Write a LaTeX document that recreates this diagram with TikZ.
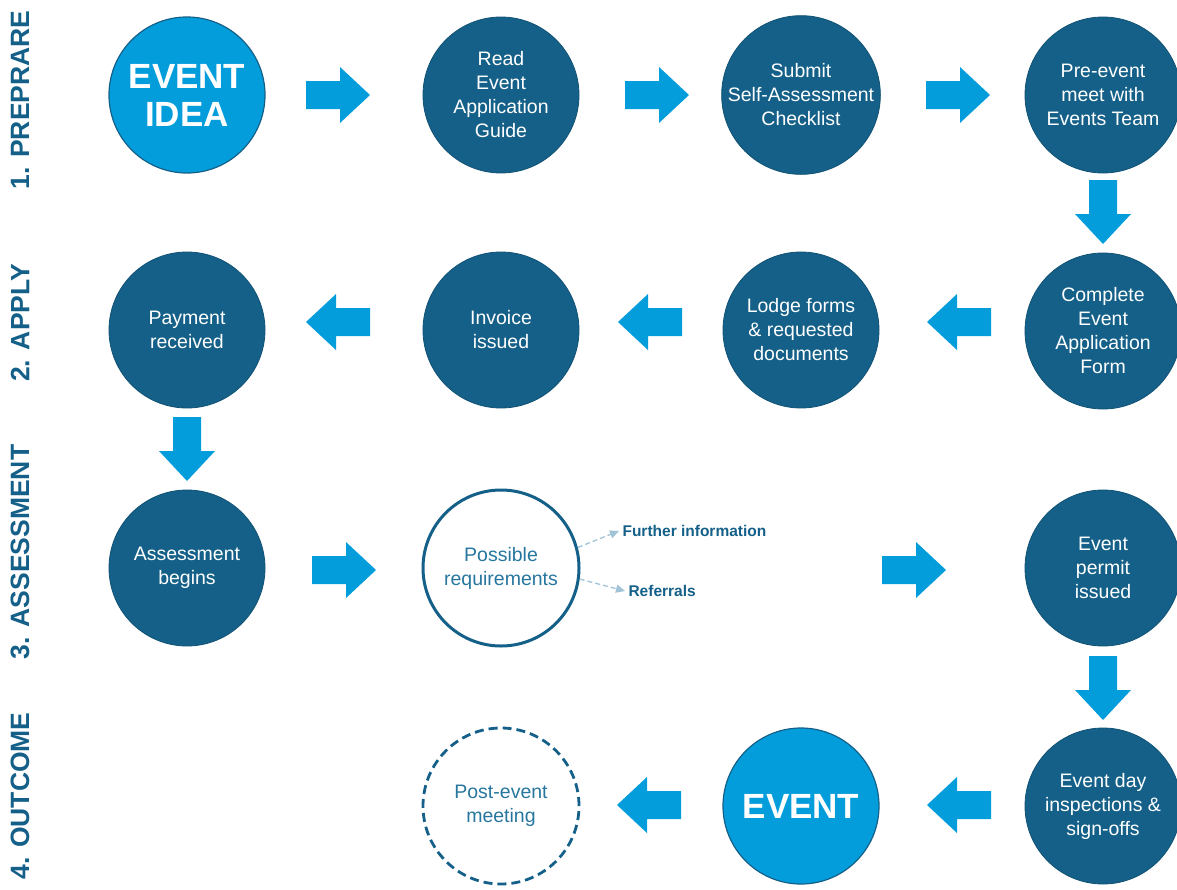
\documentclass[tikz,border=0pt]{standalone}
\usepackage{fontspec}
\setmainfont{Liberation Sans}
\usetikzlibrary{calc,arrows.meta}
\definecolor{dblue}{RGB}{20,96,136}
\definecolor{lblue}{RGB}{3,157,220}
\definecolor{tblue}{RGB}{38,118,158}
\definecolor{gblue}{RGB}{160,195,215}
\tikzset{
  x=1pt,y=-1pt,
  stepc/.style={circle,minimum size=156pt,inner sep=0pt,align=center,text=white,font=\fontsize{19.5}{24}\selectfont},
  darkc/.style={stepc,fill=dblue,draw=dblue!85!black,line width=0.8pt},
  bigc/.style={stepc,fill=lblue,draw=dblue,line width=1.2pt,font=\fontsize{35}{38}\selectfont\bfseries},
  openc/.style={stepc,draw=dblue,line width=3pt,text=tblue},
  phase/.style={rotate=90,text=dblue,font=\fontsize{26.5}{28}\selectfont\bfseries},
  side/.style={anchor=west,text=dblue,font=\fontsize{15.5}{17}\selectfont\bfseries},
  dash arrow/.style={gblue,line width=1.3pt,dashed,dash pattern=on 5pt off 3pt,-{Triangle[length=9pt,width=8pt]}},
  blockarrow/.pic={\fill[lblue] (-32,-14) -- (2,-14) -- (2,-28) -- (32,0) -- (2,28) -- (2,14) -- (-32,14) -- cycle;}
}
\begin{document}
\begin{tikzpicture}
\useasboundingbox (0,0) rectangle (1177,889);
% phase labels
\node[phase] (p1) at (20,100) {1. PREPRARE};
\node[phase] (p2) at (20,323) {2. APPLY};
\node[phase] (p3) at (20,552) {3. ASSESSMENT};
\node[phase] (p4) at (20,796) {4. OUTCOME};
% row 1
\node[bigc] (idea) at (187,95) {EVENT\\IDEA};
\node[darkc] (read) at (501,95) {Read\\Event\\Application\\Guide};
\node[darkc] (submit) at (801,95) {Submit\\Self-Assessment\\Checklist};
\node[darkc] (pre) at (1103,95) {Pre-event\\meet with\\Events Team};
% row 2
\node[darkc] (pay) at (187,330) {Payment\\received};
\node[darkc] (inv) at (501,330) {Invoice\\issued};
\node[darkc] (lodge) at (801,330) {Lodge forms\\\& requested\\documents};
\node[darkc] (complete) at (1103,331) {Complete\\Event\\Application\\Form};
% row 3
\node[darkc] (assess) at (187,568) {Assessment\\begins};
\node[openc] (poss) at (501,568) {Possible\\requirements};
\node[darkc] (permit) at (1103,568) {Event\\permit\\issued};
% row 4
\node[openc,line width=2.8pt,dash pattern=on 9pt off 5pt] (post) at (501,806) {Post-event\\meeting};
\node[bigc] (event) at (801,806) {EVENT};
\node[darkc] (day) at (1103,806) {Event day\\inspections \&\\sign-offs};
% side notes
\node[side] (fur) at (619,531) {Further information};
\node[side] (ref) at (625,591) {Referrals};
\draw[dash arrow] (poss.15) -- (fur.west);
\draw[dash arrow] (poss.-8) -- (ref.west);
% block arrows
\pic at (338,95) {blockarrow};
\pic at (657,95) {blockarrow};
\pic at (958,95) {blockarrow};
\pic[rotate=-90] at (1103,212) {blockarrow};
\pic[rotate=180] at (959,322) {blockarrow};
\pic[rotate=180] at (650,322) {blockarrow};
\pic[rotate=180] at (338,322) {blockarrow};
\pic[rotate=-90] at (187,449) {blockarrow};
\pic at (344,570) {blockarrow};
\pic at (914,570) {blockarrow};
\pic[rotate=-90] at (1103,688) {blockarrow};
\pic[rotate=180] at (959,805) {blockarrow};
\pic[rotate=180] at (649,805) {blockarrow};
\end{tikzpicture}
\end{document}
